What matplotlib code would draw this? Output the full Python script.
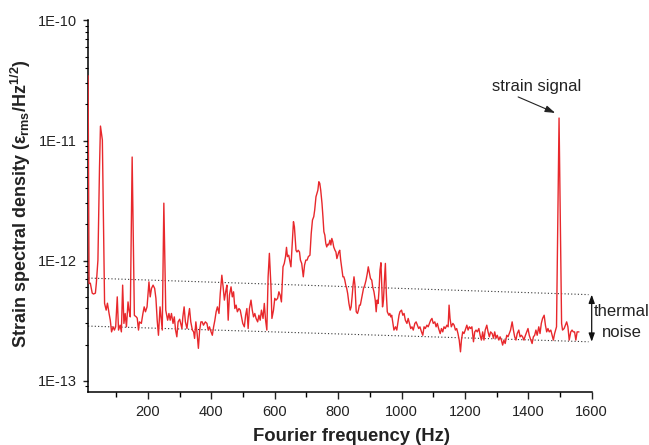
import matplotlib
matplotlib.use("Agg")
import matplotlib.pyplot as plt
from matplotlib.ticker import FixedLocator, LogLocator, NullFormatter
import numpy as np

plt.rcParams['font.family'] = ['Liberation Sans', 'DejaVu Sans']
plt.rcParams['mathtext.fontset'] = 'custom'
plt.rcParams['mathtext.rm'] = 'Liberation Sans'
plt.rcParams['mathtext.bf'] = 'Liberation Sans:bold'
plt.rcParams['mathtext.it'] = 'Liberation Sans:italic'

# ---- data: Fourier frequency (Hz) and strain spectral density (x 1e-13 eps_rms/Hz^1/2)
freq_hz = [
    11, 14, 18, 24, 28, 34, 37, 42, 47, 50,
    56, 60, 63, 68, 72, 77, 81, 85, 90, 94,
    98, 103, 107, 112, 116, 120, 124, 128, 132, 137,
    140, 144, 150, 157, 163, 166, 170, 173, 179, 184,
    188, 192, 197, 203, 207, 211, 216, 221, 225, 229,
    233, 238, 241, 245, 250, 256, 262, 266, 270, 274,
    279, 283, 287, 291, 295, 300, 307, 310, 314, 318,
    323, 327, 331, 335, 340, 344, 347, 351, 355, 359,
    363, 367, 371, 375, 381, 386, 390, 394, 399, 403,
    407, 411, 415, 419, 424, 428, 433, 437, 441, 446,
    449, 453, 457, 462, 466, 470, 474, 478, 482, 487,
    491, 495, 499, 504, 508, 512, 516, 520, 525, 529,
    533, 537, 541, 546, 550, 554, 558, 563, 567, 571,
    575, 579, 583, 588, 591, 596, 600, 604, 609, 613,
    617, 621, 626, 630, 634, 637, 640, 644, 648, 651,
    655, 659, 662, 667, 670, 674, 678, 681, 685, 690,
    694, 698, 702, 706, 711, 715, 719, 723, 726, 730,
    733, 736, 739, 742, 745, 749, 752, 755, 758, 761,
    764, 767, 770, 774, 777, 780, 783, 786, 790, 793,
    796, 799, 802, 805, 808, 812, 815, 818, 821, 824,
    827, 830, 834, 838, 841, 844, 847, 850, 853, 857,
    861, 864, 867, 870, 875, 880, 884, 888, 892, 895,
    899, 902, 906, 909, 913, 917, 920, 923, 926, 929,
    932, 935, 937, 940, 943, 946, 949, 952, 955, 960,
    963, 966, 969, 972, 976, 981, 985, 989, 992, 995,
    1000, 1004, 1008, 1012, 1017, 1021, 1025, 1029, 1033, 1037,
    1042, 1046, 1050, 1054, 1058, 1063, 1067, 1071, 1075, 1080,
    1084, 1088, 1092, 1096, 1100, 1105, 1109, 1113, 1117, 1122,
    1126, 1130, 1134, 1138, 1143, 1147, 1150, 1153, 1157, 1162,
    1166, 1170, 1174, 1178, 1182, 1186, 1189, 1193, 1197, 1201,
    1206, 1210, 1214, 1218, 1222, 1227, 1231, 1235, 1239, 1244,
    1248, 1252, 1256, 1260, 1264, 1269, 1273, 1277, 1281, 1286,
    1290, 1294, 1298, 1302, 1307, 1311, 1315, 1319, 1323, 1327,
    1332, 1336, 1340, 1344, 1349, 1353, 1357, 1361, 1365, 1370,
    1374, 1378, 1382, 1386, 1391, 1395, 1399, 1403, 1408, 1412,
    1416, 1420, 1424, 1428, 1433, 1437, 1441, 1445, 1450, 1454,
    1458, 1462, 1466, 1471, 1475, 1479, 1483, 1489, 1497, 1505,
    1508, 1513, 1517, 1521, 1525, 1529, 1534, 1538, 1542, 1546,
    1550, 1554, 1559,
]
psd_e13 = [
    345, 6.45, 6.49, 5.36, 5.27, 5.36, 6.49, 10.1, 60.1, 132,
    101, 16.9, 4.40, 3.87, 4.42, 3.65, 3.19, 2.55, 2.81, 2.64,
    2.81, 4.99, 2.64, 2.90, 2.55, 6.25, 3.00, 3.63, 2.81, 4.53,
    3.87, 3.40, 72.9, 3.50, 3.40, 3.32, 2.64, 3.09, 3.00, 3.63,
    4.12, 3.75, 4.12, 6.65, 4.99, 5.87, 6.25, 5.87, 4.85, 3.19,
    2.39, 4.12, 3.40, 2.64, 30.1, 3.87, 3.19, 3.63, 3.19, 3.63,
    3.00, 3.40, 2.64, 2.32, 3.09, 3.25, 2.72, 3.40, 4.12, 3.09,
    2.72, 3.40, 3.99, 3.09, 2.64, 2.55, 2.25, 3.09, 2.47, 1.86,
    2.64, 3.09, 3.09, 2.90, 3.09, 3.00, 2.64, 2.81, 2.55, 2.39,
    2.81, 3.19, 3.75, 4.12, 3.63, 5.33, 7.56, 6.05, 4.69, 5.68,
    6.25, 3.19, 5.16, 6.05, 4.99, 5.50, 3.99, 4.26, 3.75, 3.99,
    3.87, 3.40, 3.00, 2.81, 3.51, 3.99, 2.72, 3.99, 4.69, 3.87,
    3.40, 3.63, 3.30, 3.09, 3.51, 3.19, 3.87, 3.30, 4.40, 3.19,
    2.64, 7.33, 11.5, 6.05, 3.30, 3.87, 4.85, 4.69, 4.85, 5.50,
    5.16, 4.53, 8.88, 9.48, 10.8, 12.9, 10.8, 11.1, 9.78, 8.88,
    13.9, 21.1, 19.1, 12.2, 11.8, 12.2, 11.8, 10.1, 9.48, 7.33,
    9.19, 10.1, 10.1, 10.8, 11.1, 16.8, 21.8, 23.2, 26.4, 34.0,
    36.3, 38.6, 45.4, 44.0, 38.6, 30.0, 23.2, 17.4, 16.3, 13.9,
    13.0, 13.7, 13.5, 14.8, 13.5, 15.3, 14.4, 13.0, 12.2, 11.8,
    10.4, 11.1, 11.8, 12.2, 10.1, 8.33, 7.33, 7.33, 6.88, 6.25,
    5.87, 5.33, 4.40, 3.87, 4.12, 4.99, 6.25, 7.33, 6.25, 3.75,
    3.63, 3.87, 4.26, 4.26, 4.99, 5.87, 6.25, 6.88, 7.83, 8.88,
    7.83, 7.10, 6.88, 6.05, 5.50, 4.69, 3.75, 4.69, 4.40, 5.68,
    8.33, 9.60, 6.88, 4.12, 4.69, 6.88, 9.48, 5.33, 3.75, 3.51,
    3.63, 3.40, 3.51, 3.09, 2.64, 2.81, 2.64, 3.09, 3.51, 3.75,
    3.87, 3.51, 3.63, 3.19, 3.00, 3.30, 3.00, 2.72, 2.81, 2.64,
    3.00, 3.09, 2.90, 2.72, 2.81, 2.55, 2.39, 2.81, 2.72, 2.90,
    2.81, 3.00, 3.19, 3.30, 3.00, 3.09, 2.81, 3.00, 2.72, 2.47,
    2.72, 2.55, 2.81, 2.72, 2.90, 2.81, 4.26, 3.30, 2.81, 3.00,
    2.90, 2.64, 2.72, 2.47, 2.18, 1.74, 2.18, 2.55, 2.47, 2.64,
    2.90, 2.64, 2.81, 2.72, 2.81, 2.11, 2.55, 2.64, 2.55, 2.72,
    2.39, 2.18, 2.55, 2.18, 2.64, 2.90, 2.55, 2.32, 2.55, 2.47,
    2.26, 2.55, 2.26, 2.39, 2.18, 2.32, 2.18, 1.98, 2.18, 2.04,
    2.39, 2.32, 2.47, 2.64, 3.09, 2.64, 2.32, 2.18, 2.47, 2.64,
    2.32, 2.39, 2.32, 2.18, 2.39, 2.55, 2.72, 2.39, 2.18, 2.04,
    2.32, 2.39, 2.64, 2.39, 2.81, 2.47, 3.00, 3.30, 3.51, 2.90,
    2.55, 2.72, 2.55, 2.64, 2.39, 2.18, 2.47, 2.81, 154, 3.00,
    2.64, 2.72, 2.90, 3.09, 2.81, 2.18, 2.55, 2.64, 2.55, 2.55,
    2.18, 2.55, 2.55,
]
# thermal-noise band guide lines (start / end frequency, values)
band_freq = [11, 1590]
band_upper = [7.16e-13, 5.21e-13]
band_lower = [2.85e-13, 2.11e-13]
arrow_freq = 1600

x_ticks = [200, 400, 600, 800, 1000, 1200, 1400, 1600]
x_minor = [100, 300, 500, 700, 900, 1100, 1300, 1500]
y_ticks = [1e-13, 1e-12, 1e-11, 1e-10]
y_labels = ['1E-13', '1E-12', '1E-11', '1E-10']

assert len(freq_hz) == len(psd_e13)
psd = np.array(psd_e13) * 1e-13

fig = plt.figure(figsize=(6.49, 4.45), dpi=100)
ax = fig.add_axes([0.1356, 0.1198, 0.7761, 0.8342])

ax.plot(freq_hz, psd, color='#e8282c', lw=1.0, zorder=3)
ax.plot(band_freq, band_upper, color='#333333', lw=0.8, linestyle=(0, (1, 2)), zorder=2)
ax.plot(band_freq, band_lower, color='#333333', lw=0.8, linestyle=(0, (1, 2)), zorder=2)

ax.set_yscale('log')
ax.set_xlim(10.7, 1600)
ax.set_ylim(8.1e-14, 1e-10)

for s in ['top', 'right']:
    ax.spines[s].set_visible(False)
for s in ['left', 'bottom']:
    ax.spines[s].set_linewidth(1.1)

ax.xaxis.set_major_locator(FixedLocator(x_ticks))
ax.xaxis.set_minor_locator(FixedLocator(x_minor))
ax.set_xticklabels([str(v) for v in x_ticks])
ax.yaxis.set_major_locator(FixedLocator(y_ticks))
ax.set_yticklabels(y_labels)
ax.yaxis.set_minor_locator(LogLocator(base=10, subs=np.arange(2, 10)))
ax.yaxis.set_minor_formatter(NullFormatter())

ax.tick_params(axis='x', which='major', direction='out', length=5.2, width=1.0,
               labelsize=10.5, pad=4.3, colors='#222222')
ax.tick_params(axis='x', which='minor', direction='out', length=3.6, width=1.0)
ax.tick_params(axis='y', which='major', direction='out', length=3.8, width=1.0,
               labelsize=10.5, pad=4, colors='#222222')
ax.tick_params(axis='y', which='minor', direction='out', length=2.0, width=0.8)

ax.set_xlabel('Fourier frequency (Hz)', fontsize=13.3, fontweight='bold', color='#222222')
ax.xaxis.set_label_coords(0.523, -0.0986)
ax.set_ylabel(r'Strain spectral density (ε$_{\mathbf{rms}}$/Hz$^{\mathbf{1/2}}$)',
              fontsize=13, fontweight='bold', color='#222222')
ax.yaxis.set_label_coords(-0.109, 0.507)

# strain signal annotation
ax.text(0.891, 0.821, 'strain signal', transform=ax.transAxes, ha='center', va='center',
        fontsize=12, color='#222222')
ax.annotate('', xy=(0.9275, 0.751), xycoords='axes fraction',
            xytext=(0.854, 0.794), textcoords='axes fraction',
            arrowprops=dict(arrowstyle='-|>,head_length=0.6,head_width=0.2',
                            color='#222222', lw=0.8, shrinkA=0, shrinkB=0))

# thermal noise double arrow
ax.annotate('', xy=(arrow_freq, band_upper[1]), xytext=(arrow_freq, band_lower[1]),
            xycoords='data', textcoords='data',
            arrowprops=dict(arrowstyle='<|-|>,head_length=0.5,head_width=0.18',
                            color='#111111', lw=0.9, shrinkA=0, shrinkB=0),
            annotation_clip=False)
ax.text(1.0032, 0.2147, 'thermal', transform=ax.transAxes, ha='left', va='center',
        fontsize=12, color='#222222', clip_on=False)
ax.text(1.0608, 0.159, 'noise', transform=ax.transAxes, ha='center', va='center',
        fontsize=12, color='#222222', clip_on=False)

fig.savefig('out.png', dpi=100)
